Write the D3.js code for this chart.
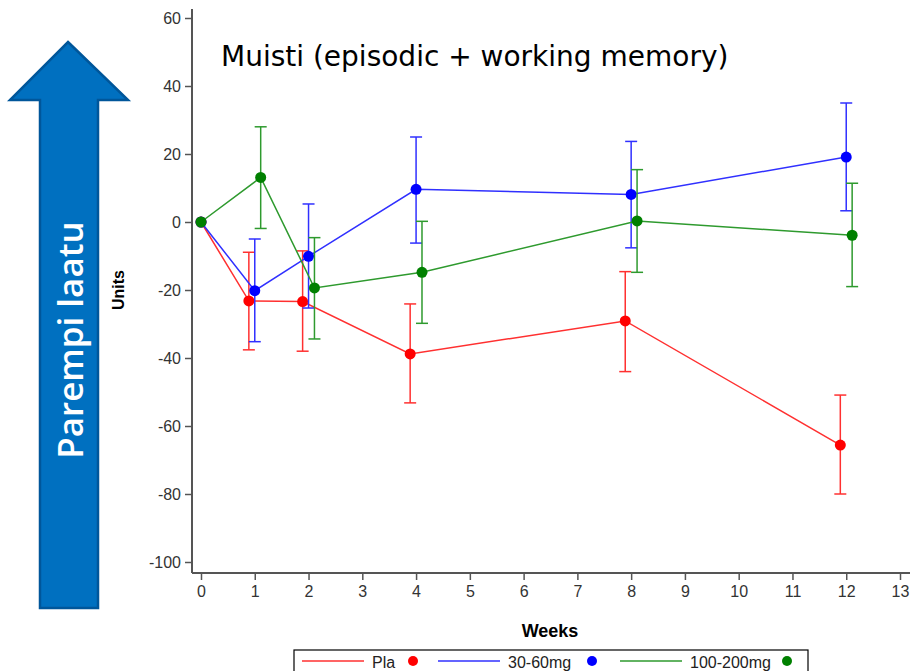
<!DOCTYPE html>
<html>
<head>
<meta charset="utf-8">
<script src="https://cdn.jsdelivr.net/npm/d3@7"></script>
<style>
  body { margin: 0; background: #fff; }
  svg { display: block; }
</style>
</head>
<body>
<div id="chart"></div>
<script>
var svgWidth = 918;
var svgHeight = 671;

// data
var weeks = [0, 1, 2, 4, 8, 12];
var seriesNames = ['Pla', '30-60mg', '100-200mg'];
var plaMean = [0, -23.2, -23.4, -38.8, -29.1, -65.6];
var plaUpper = [0, -8.9, -8.5, -24.1, -14.6, -50.9];
var plaLower = [0, -37.6, -38.0, -53.2, -44.0, -80.0];
var midMean = [0, -20.2, -10.1, 9.6, 8.1, 19.1];
var midUpper = [0, -5.0, 5.3, 25.0, 23.7, 35.0];
var midLower = [0, -35.2, -25.3, -6.2, -7.6, 3.3];
var highMean = [0, 13.1, -19.4, -14.8, 0.3, -3.9];
var highUpper = [0, 28.0, -4.6, 0.2, 15.4, 11.4];
var highLower = [0, -1.9, -34.4, -29.8, -14.8, -19.0];
var xTicks = [0, 1, 2, 3, 4, 5, 6, 7, 8, 9, 10, 11, 12, 13];
var yTicks = [-100, -80, -60, -40, -20, 0, 20, 40, 60];

var series = [
  { name: seriesNames[0], mean: plaMean, upper: plaUpper, lower: plaLower, line: '#ff3030', dot: '#ff0000', dodge: -0.11 },
  { name: seriesNames[1], mean: midMean, upper: midUpper, lower: midLower, line: '#3030ff', dot: '#0000ff', dodge: 0 },
  { name: seriesNames[2], mean: highMean, upper: highUpper, lower: highLower, line: '#2e9a2e', dot: '#008000', dodge: 0.11 }
];

var svg = d3.select('#chart').append('svg')
  .attr('width', svgWidth)
  .attr('height', svgHeight);

var xScale = d3.scaleLinear().domain([0, 13]).range([201, 900]);
var yScale = d3.scaleLinear().domain([-100, 60]).range([562, 18]);

// blue arrow on the left
var arrowPts = [[68, 42], [128, 100], [98, 100], [98, 608], [40, 608], [40, 100], [10, 100]];
svg.append('polygon')
  .attr('points', arrowPts.map(p => p.join(',')).join(' '))
  .attr('fill', '#0070c0')
  .attr('stroke', '#00569a')
  .attr('stroke-width', 2.5)
  .attr('stroke-linejoin', 'miter');

svg.append('text')
  .attr('transform', 'translate(83, 340) rotate(-90)')
  .attr('text-anchor', 'middle')
  .attr('font-family', 'Open Sans, Noto Sans, sans-serif')
  .attr('font-weight', 600)
  .attr('font-size', 35)
  .attr('fill', '#fff')
  .text('Parempi laatu');

// axes
var yAxis = svg.append('g')
  .attr('transform', 'translate(192, 0)')
  .call(d3.axisLeft(yScale).tickValues(yTicks).tickFormat(d => String(d))
    .tickSize(7).tickPadding(4).tickSizeOuter(0));
yAxis.select('.domain').attr('d', 'M0,9V573');

var xAxis = svg.append('g')
  .attr('transform', 'translate(0, 573)')
  .call(d3.axisBottom(xScale).tickValues(xTicks).tickFormat(d => String(d))
    .tickSize(7).tickPadding(6).tickSizeOuter(0));
xAxis.select('.domain').attr('d', 'M192,0H910');

svg.selectAll('.tick text')
  .attr('font-family', 'Liberation Sans, Arial, sans-serif')
  .attr('font-size', 16)
  .attr('fill', '#333');
svg.selectAll('.tick line').attr('stroke', '#555').attr('stroke-width', 1.5);
svg.selectAll('.domain').attr('stroke', '#555').attr('stroke-width', 2);

svg.append('text')
  .attr('x', 550).attr('y', 637)
  .attr('text-anchor', 'middle')
  .attr('font-family', 'Liberation Sans, Arial, sans-serif')
  .attr('font-weight', 'bold')
  .attr('font-size', 18)
  .text('Weeks');

svg.append('text')
  .attr('transform', 'translate(124, 290) rotate(-90)')
  .attr('text-anchor', 'middle')
  .attr('font-family', 'Liberation Sans, Arial, sans-serif')
  .attr('font-weight', 'bold')
  .attr('font-size', 16)
  .text('Units');

svg.append('text')
  .attr('x', 221).attr('y', 66)
  .attr('font-family', 'DejaVu Sans, Verdana, sans-serif')
  .attr('font-size', 28)
  .attr('fill', '#000')
  .text('Muisti (episodic + working memory)');

// lines, error bars, dots
var xPos = (s, i) => xScale(weeks[i] + (weeks[i] === 0 ? 0 : s.dodge));

series.forEach(function(s) {
  var g = svg.append('g');
  var line = d3.line()
    .x((d, i) => xPos(s, i))
    .y(d => yScale(d));
  g.append('path')
    .datum(s.mean)
    .attr('d', line)
    .attr('fill', 'none')
    .attr('stroke', s.line)
    .attr('stroke-width', 1.5);

  var bars = g.selectAll('.err')
    .data(weeks.map((w, i) => i).filter(i => weeks[i] !== 0))
    .enter().append('g');
  bars.append('line')
    .attr('x1', i => xPos(s, i)).attr('x2', i => xPos(s, i))
    .attr('y1', i => yScale(s.upper[i])).attr('y2', i => yScale(s.lower[i]))
    .attr('stroke', s.line).attr('stroke-width', 1.5);
  bars.append('line')
    .attr('x1', i => xPos(s, i) - 6).attr('x2', i => xPos(s, i) + 6)
    .attr('y1', i => yScale(s.upper[i])).attr('y2', i => yScale(s.upper[i]))
    .attr('stroke', s.line).attr('stroke-width', 1.5);
  bars.append('line')
    .attr('x1', i => xPos(s, i) - 6).attr('x2', i => xPos(s, i) + 6)
    .attr('y1', i => yScale(s.lower[i])).attr('y2', i => yScale(s.lower[i]))
    .attr('stroke', s.line).attr('stroke-width', 1.5);

  g.selectAll('circle')
    .data(s.mean)
    .enter().append('circle')
    .attr('cx', (d, i) => xPos(s, i))
    .attr('cy', d => yScale(d))
    .attr('r', 5.5)
    .attr('fill', s.dot);
});

// legend
var legend = svg.append('g');
legend.append('rect')
  .attr('x', 294).attr('y', 650)
  .attr('width', 514).attr('height', 30)
  .attr('fill', '#fff')
  .attr('stroke', '#000')
  .attr('stroke-width', 1.2);
var legendX = [302, 438, 620];
var dotX = [413, 592, 787];
series.forEach(function(s, k) {
  legend.append('line')
    .attr('x1', legendX[k]).attr('x2', legendX[k] + 62)
    .attr('y1', 661).attr('y2', 661)
    .attr('stroke', s.line).attr('stroke-width', 1.5);
  legend.append('text')
    .attr('x', legendX[k] + 70).attr('y', 668)
    .attr('font-family', 'Liberation Sans, Arial, sans-serif')
    .attr('font-size', 16)
    .attr('fill', '#222')
    .text(s.name);
  legend.append('circle')
    .attr('cx', dotX[k]).attr('cy', 661)
    .attr('r', 5)
    .attr('fill', s.dot);
});
</script>
</body>
</html>
